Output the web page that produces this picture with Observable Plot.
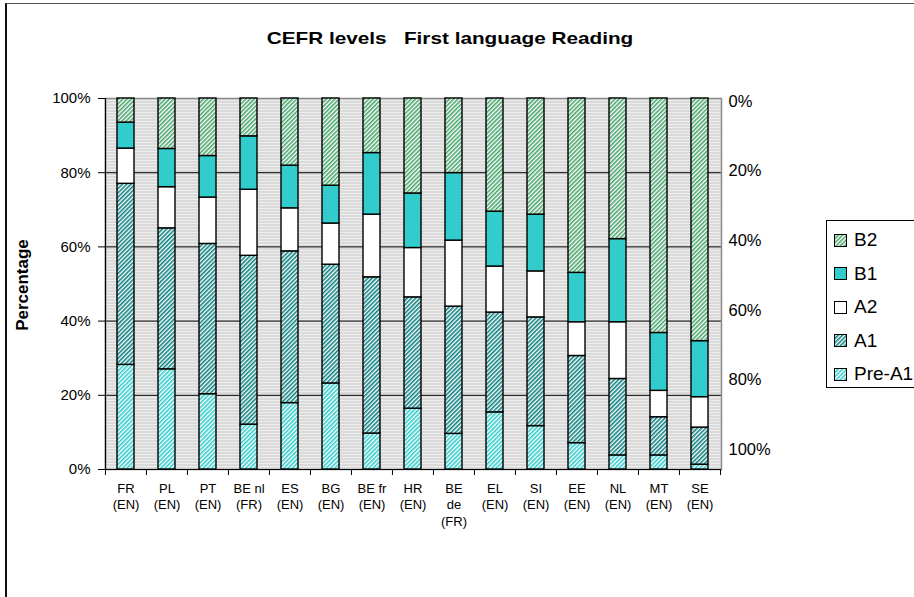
<!DOCTYPE html>
<html>
<head>
<meta charset="utf-8">
<script src="https://cdn.jsdelivr.net/npm/d3@7"></script>
<script src="https://cdn.jsdelivr.net/npm/@observablehq/plot@0.6"></script>
<style>
  body { margin: 0; background: #fff; font-family: "Liberation Sans", Arial, sans-serif; }
  #wrap { position: relative; width: 914px; height: 597px; overflow: hidden; background: #fff; }
  #border { position: absolute; left: 5px; top: 3px; width: 1200px; height: 1200px; border-left: 2px solid #111; border-top: 1px solid #555; box-sizing: border-box; }
  #title { position: absolute; top: 29px; left: 450px; transform: translateX(-50%) scaleX(1.22); white-space: pre; font-weight: bold; font-size: 17px; color: #000; }
  #ylab { position: absolute; left: 23px; top: 285px; transform: translate(-50%, -50%) rotate(-90deg); font-weight: bold; font-size: 17px; white-space: nowrap; }
  #main { position: absolute; left: 0; top: 0; }
  #right { position: absolute; left: 722px; top: 0; }
  #legend { position: absolute; left: 826px; top: 220px; width: 200px; height: 168px; border: 1px solid #000; box-sizing: border-box; background: #fff; }
  .item { position: absolute; left: 7px; height: 24px; display: flex; align-items: center; font-size: 19px; white-space: nowrap; }
  .item svg { margin-right: 7px; }
</style>
</head>
<body>
<div id="wrap">
  <div id="border"></div>
  <div id="title">CEFR levels   First language Reading</div>
  <div id="ylab">Percentage</div>
  <div id="main"></div>
  <div id="right"></div>
  <div id="legend"></div>
</div>
<script>
// ---- data ----
const countries = ["FR\n(EN)", "PL\n(EN)", "PT\n(EN)", "BE nl\n(FR)", "ES\n(EN)", "BG\n(EN)", "BE fr\n(EN)", "HR\n(EN)", "BE\nde\n(FR)", "EL\n(EN)", "SI\n(EN)", "EE\n(EN)", "NL\n(EN)", "MT\n(EN)", "SE\n(EN)"];
const levels = ["Pre-A1", "A1", "A2", "B1", "B2"];
const preA1 = [28.2, 27.0, 20.3, 12.1, 17.9, 23.2, 9.7, 16.4, 9.6, 15.4, 11.7, 7.1, 3.8, 3.8, 1.3];
const a1    = [48.8, 38.0, 40.5, 45.5, 40.9, 32.0, 42.1, 30.0, 34.3, 26.9, 29.3, 23.5, 20.6, 10.3, 10.0];
const a2    = [9.5, 11.1, 12.5, 17.8, 11.6, 11.1, 16.9, 13.3, 17.8, 12.4, 12.4, 9.1, 15.3, 7.1, 8.2];
const b1    = [7.0, 10.3, 11.2, 14.4, 11.5, 10.2, 16.6, 14.7, 18.2, 14.8, 15.3, 13.3, 22.4, 15.6, 15.1];
const b2    = [6.5, 13.6, 15.5, 10.2, 18.1, 23.5, 14.7, 25.6, 20.1, 30.5, 31.3, 47.0, 37.9, 63.2, 65.4];
const leftTicks = [0, 20, 40, 60, 80, 100];
const rightTicks = [0, 20, 40, 60, 80, 100];
const legendOrder = ["B2", "B1", "A2", "A1", "Pre-A1"];

const series = {"Pre-A1": preA1, "A1": a1, "A2": a2, "B1": b1, "B2": b2};
const table = [];
countries.forEach((c, i) => levels.forEach(l => table.push({country: c, level: l, value: series[l][i]})));

// ---- patterns ----
const patternIds = {"Pre-A1": "pPre", "A1": "pA1", "A2": "pA2", "B1": "pB1", "B2": "pB2"};
function stripe(id, color) {
  return `<pattern id="${id}" width="3" height="3" patternUnits="userSpaceOnUse" patternTransform="rotate(45)">
    <rect width="3" height="3" fill="#fff"/><rect width="1.6" height="3" fill="${color}"/></pattern>`;
}
const defsMarkup = `
  <pattern id="bg" width="4" height="3" patternUnits="userSpaceOnUse">
    <rect width="4" height="3" fill="#ededed"/><rect y="2" width="4" height="1" fill="#c6c6c6"/></pattern>
  ${stripe("pB2", "#4aa56c")}
  ${stripe("pA1", "#0f8080")}
  ${stripe("pPre", "#33cccc")}
  <pattern id="pB1" width="4" height="4" patternUnits="userSpaceOnUse"><rect width="4" height="4" fill="#33cccc"/></pattern>
  <pattern id="pA2" width="4" height="4" patternUnits="userSpaceOnUse"><rect width="4" height="4" fill="#ffffff"/></pattern>`;
function defsMark() {
  const g = d3.create("svg:defs");
  g.html(defsMarkup);
  return g.node();
}

// ---- main chart ----
const W = 914, H = 597, mL = 105, mR = 193, mT = 98, mB = 128;
const step = (W - mL - mR) / countries.length;
const last = countries[countries.length - 1];

const main = Plot.plot({
  width: W, height: H,
  marginLeft: mL, marginRight: mR, marginTop: mT, marginBottom: mB,
  style: {fontFamily: "Liberation Sans, Arial, sans-serif", color: "#000", background: "transparent"},
  x: {domain: countries, paddingInner: 0.58, paddingOuter: 0.29, axis: null},
  y: {domain: [0, 100], axis: null},
  color: {domain: levels, range: levels.map(l => `url(#${patternIds[l]})`)},
  marks: [
    defsMark,
    Plot.frame({fill: "url(#bg)", stroke: "none"}),
    Plot.ruleY(leftTicks.filter(t => t > 0 && t < 100), {stroke: "#000", strokeWidth: 1}),
    Plot.frame({stroke: "#8a8a8a", strokeWidth: 1.5}),
    Plot.barY(table, Plot.stackY({x: "country", y: "value", fill: "level", stroke: "#000", strokeWidth: 1.4})),
    Plot.ruleY([0], {stroke: "#000", strokeWidth: 1.2}),
    Plot.ruleX([countries[0]], {x: d => d, dx: -step / 2, stroke: "#000", strokeWidth: 1.2}),
    Plot.ruleX(countries, {x: d => d, dx: -step / 2, y1: 0, y2: 0, insetBottom: -6, stroke: "#000"}),
    Plot.ruleX([last], {x: d => d, dx: step / 2, y1: 0, y2: 0, insetBottom: -6, stroke: "#000"}),
    Plot.axisY(leftTicks, {anchor: "left", tickSize: 7, tickPadding: 8, tickFormat: d => d + "%", fontSize: 15, label: null, stroke: "#000"}),
    Plot.axisX({anchor: "bottom", tickSize: 0, tickPadding: 11, fontSize: 13, lineHeight: 1.3, label: null})
  ]
});
document.getElementById("main").appendChild(main);

// ---- right-hand secondary axis ----
const right = Plot.plot({
  width: 90, height: H,
  marginLeft: 0, marginRight: 90, marginTop: 101, marginBottom: H - 449,
  style: {fontFamily: "Liberation Sans, Arial, sans-serif", color: "#000", background: "transparent"},
  y: {domain: [0, 100], reverse: true, axis: null},
  marks: [
    Plot.axisY(rightTicks, {anchor: "right", tickSize: 0, tickPadding: 6, tickFormat: d => d + "%", fontSize: 16.5, label: null})
  ]
});
document.getElementById("right").appendChild(right);

// ---- legend ----
const legend = document.getElementById("legend");
legendOrder.forEach((l, i) => {
  const div = document.createElement("div");
  div.className = "item";
  div.style.top = (7 + i * 33.6) + "px";
  div.innerHTML = `<svg width="13" height="13"><rect x="0.5" y="0.5" width="12" height="12" fill="url(#${patternIds[l]})" stroke="#000" stroke-width="1"/></svg><span>${l}</span>`;
  legend.appendChild(div);
});
</script>
</body>
</html>
